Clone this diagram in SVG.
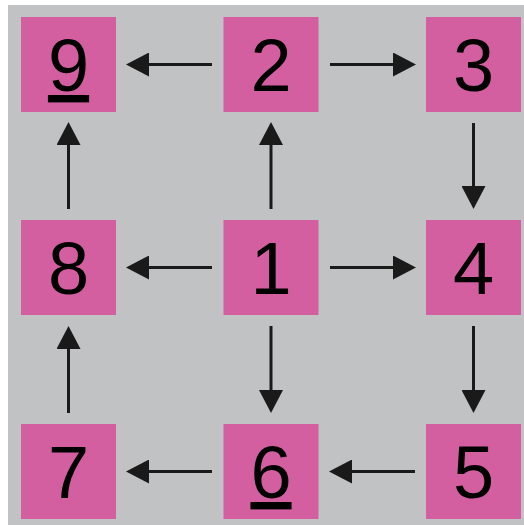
<svg xmlns="http://www.w3.org/2000/svg" width="524" height="525" viewBox="0 0 524 525">
<style>
.box{fill:#d35fa1;}
.lbl{font-family:"Liberation Sans",Arial,sans-serif;font-size:74px;fill:#000;text-anchor:middle;}
.u{text-decoration:underline;}
.con line{stroke:#1a1a1a;stroke-width:3;marker-end:url(#ah);}
</style>
<defs>
<marker id="ah" viewBox="0 0 23 24" refX="0" refY="12" markerWidth="23" markerHeight="24" markerUnits="userSpaceOnUse" orient="auto">
<path d="M0,0 L23,12 L0,24 Z" fill="#1a1a1a"/>
</marker>
</defs>
<rect x="8" y="5" width="516" height="520" fill="#c1c2c4"/>
<g id="n9"><rect class="box" x="21" y="17" width="95" height="95"/><text class="lbl u" x="68.5" y="91">9</text></g>
<g id="n2"><rect class="box" x="223.5" y="17" width="95" height="95"/><text class="lbl" x="271" y="91">2</text></g>
<g id="n3"><rect class="box" x="426" y="17" width="95" height="95"/><text class="lbl" x="473.5" y="91">3</text></g>
<g id="n8"><rect class="box" x="21" y="220" width="95" height="95"/><text class="lbl" x="68.5" y="294">8</text></g>
<g id="n1"><rect class="box" x="223.5" y="220" width="95" height="95"/><text class="lbl" x="271" y="294">1</text></g>
<g id="n4"><rect class="box" x="426" y="220" width="95" height="95"/><text class="lbl" x="473.5" y="294">4</text></g>
<g id="n7"><rect class="box" x="21" y="424" width="95" height="95"/><text class="lbl" x="68.5" y="498">7</text></g>
<g id="n6"><rect class="box" x="223.5" y="424" width="95" height="95"/><text class="lbl u" x="271" y="498">6</text></g>
<g id="n5"><rect class="box" x="426" y="424" width="95" height="95"/><text class="lbl" x="473.5" y="498">5</text></g>
<g id="connectors" class="con">
<line x1="212" y1="64.5" x2="149" y2="64.5"/>
<line x1="330" y1="64.5" x2="393" y2="64.5"/>
<line x1="473.5" y1="123" x2="473.5" y2="186"/>
<line x1="473.5" y1="326" x2="473.5" y2="390"/>
<line x1="415" y1="471.5" x2="352" y2="471.5"/>
<line x1="212" y1="471.5" x2="149" y2="471.5"/>
<line x1="68.5" y1="413" x2="68.5" y2="349"/>
<line x1="68.5" y1="209" x2="68.5" y2="145"/>
<line x1="271" y1="209" x2="271" y2="145"/>
<line x1="212" y1="267.5" x2="149" y2="267.5"/>
<line x1="330" y1="267.5" x2="393" y2="267.5"/>
<line x1="271" y1="326" x2="271" y2="390"/>
</g>
</svg>
